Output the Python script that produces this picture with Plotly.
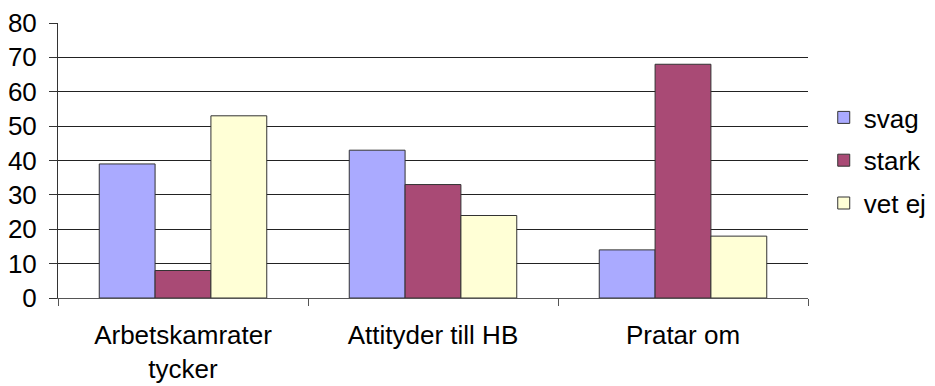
import plotly.graph_objects as go

categories = ["Arbetskamrater<br>tycker", "Attityder till HB", "Pratar om"]
svag = [39, 43, 14]
stark = [8, 33, 68]
vet_ej = [53, 24, 18]
y_ticks = [0, 10, 20, 30, 40, 50, 60, 70, 80]

series = [
    ("svag", svag, "#AAAAFF"),
    ("stark", stark, "#A94A75"),
    ("vet ej", vet_ej, "#FFFFD6"),
]

FONT = "Liberation Sans, Arial, sans-serif"
FS = 26

fig = go.Figure()
for i, (name, vals, color) in enumerate(series):
    fig.add_trace(go.Bar(
        x=categories, y=vals, name=name,
        marker=dict(color=color, line=dict(color="#333333", width=1)),
        legendgroup=f"g{i}",
    ))

fig.update_layout(
    width=935, height=386,
    margin=dict(l=58, r=127, t=23, b=88, pad=0),
    paper_bgcolor="white", plot_bgcolor="white",
    font=dict(family=FONT, size=FS, color="black"),
    barmode="group", bargap=0.33, bargroupgap=0,
    showlegend=True,
    legend=dict(xref="container", x=0.881, y=0.5, xanchor="left", yanchor="middle",
                traceorder="grouped", tracegroupgap=6,
                font=dict(family=FONT, size=FS, color="black"),
                bgcolor="rgba(0,0,0,0)"),
    xaxis=dict(
        showline=True, linecolor="#555555", linewidth=1,
        ticks="outside", tickson="boundaries", ticklen=7, tickcolor="#555555",
        showgrid=False, tickfont=dict(family=FONT, size=FS),
        automargin=False, ticklabelstandoff=14,
    ),
    yaxis=dict(
        range=[0, 80], tickvals=y_ticks,
        showline=True, linecolor="#333333", linewidth=1,
        ticks="outside", ticklen=8, tickcolor="#333333",
        showgrid=True, gridcolor="#222222", gridwidth=1,
        zeroline=False, ticklabelstandoff=7, automargin=False,
        tickfont=dict(family=FONT, size=FS),
    ),
)

fig.write_html("out.html")
